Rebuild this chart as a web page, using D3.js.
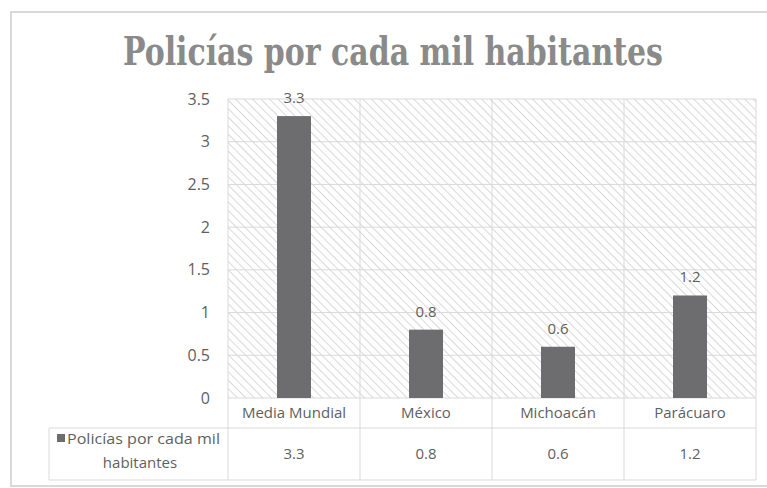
<!DOCTYPE html>
<html><head><meta charset="utf-8">
<script src="https://cdn.jsdelivr.net/npm/d3@7"></script>
<style>html,body{margin:0;padding:0;background:#fff;}svg{display:block;}</style>
</head><body>
<svg id="c" width="767" height="488"></svg>
<script>
const title = "Policías por cada mil habitantes";
const categories = ["Media Mundial", "México", "Michoacán", "Parácuaro"];
const values = [3.3, 0.8, 0.6, 1.2];
const seriesName = ["Policías por cada mil", "habitantes"];
const yTicks = [0, 0.5, 1, 1.5, 2, 2.5, 3, 3.5];

const svg = d3.select("#c");
const W = 767, H = 488;
const plot = {left: 228, right: 756, top: 99, bottom: 398};
const tableTop = 428, tableBottom = 480, legendLeft = 49;
const grid = "#d9d9d9", txt = "#5f5f5f";
const fontFam = "'Open Sans', 'Liberation Sans', sans-serif";
const fs = 15;

// hatch pattern
const defs = svg.append("defs");
const pat = defs.append("pattern").attr("id","hatch").attr("patternUnits","userSpaceOnUse")
  .attr("width",6).attr("height",6).attr("patternTransform","rotate(-45)");
pat.append("rect").attr("width",6).attr("height",6).attr("fill","#fff");
pat.append("line").attr("x1",0).attr("y1",0).attr("x2",0).attr("y2",6)
  .attr("stroke","#d9d9d9").attr("stroke-width",2);

// outer border
svg.append("rect").attr("x",11).attr("y",12).attr("width",W+20).attr("height",474)
  .attr("fill","#fff").attr("stroke","#d9d9d9").attr("stroke-width",2);

const x = d3.scaleBand().domain(categories).range([plot.left, plot.right]);
const y = d3.scaleLinear().domain([0, 3.5]).range([plot.bottom, plot.top]);

// plot background
svg.append("rect").attr("x",plot.left).attr("y",plot.top)
  .attr("width",plot.right-plot.left).attr("height",plot.bottom-plot.top)
  .attr("fill","url(#hatch)");

// title
const tg = svg.append("g").attr("transform","translate(393,65) scale(1,1.18)");
const t = tg.append("text").attr("x",0).attr("y",0)
  .attr("text-anchor","middle").attr("font-family","'DejaVu Serif','Liberation Serif',serif")
  .attr("font-stretch","condensed")
  .attr("font-weight","bold").attr("font-size",36).attr("fill","#8a8a8a").text(title);
const tw = t.node().getComputedTextLength();
t.attr("font-size", 36*540/tw);

// horizontal gridlines
svg.append("g").selectAll("line").data(yTicks).join("line")
  .attr("x1",plot.left).attr("x2",plot.right)
  .attr("y1",d=>y(d)).attr("y2",d=>y(d))
  .attr("stroke",grid).attr("stroke-width",1);

// vertical separators
const bounds = categories.map(c=>x(c)).concat([plot.right]);
svg.append("g").selectAll("line").data(bounds).join("line")
  .attr("x1",d=>d).attr("x2",d=>d).attr("y1",plot.top).attr("y2",tableBottom)
  .attr("stroke",grid).attr("stroke-width",1);

// table lines
svg.append("line").attr("x1",legendLeft).attr("x2",plot.right).attr("y1",tableTop).attr("y2",tableTop).attr("stroke",grid);
svg.append("line").attr("x1",legendLeft).attr("x2",plot.right).attr("y1",tableBottom).attr("y2",tableBottom).attr("stroke",grid);
svg.append("line").attr("x1",legendLeft).attr("x2",legendLeft).attr("y1",tableTop).attr("y2",tableBottom).attr("stroke",grid);

// y axis labels
const yAxis = d3.axisLeft(y).tickValues(yTicks).tickSize(0).tickPadding(0).tickFormat(d=>String(d));
const ya = svg.append("g").attr("transform",`translate(210,0)`).call(yAxis);
ya.select(".domain").remove();
ya.selectAll("text").attr("font-family",fontFam).attr("font-size",16).attr("fill",txt);

// bars
const bw = 34;
svg.append("g").selectAll("rect").data(values).join("rect")
  .attr("x",(d,i)=>x(categories[i])+x.bandwidth()/2-bw/2)
  .attr("width",bw)
  .attr("y",d=>y(d)).attr("height",d=>y(0)-y(d))
  .attr("fill","#6d6d6f");

// data labels
svg.append("g").selectAll("text").data(values).join("text")
  .attr("x",(d,i)=>x(categories[i])+x.bandwidth()/2)
  .attr("y",d=>y(d)-13)
  .attr("text-anchor","middle").attr("font-family",fontFam).attr("font-size",fs).attr("fill",txt)
  .text(d=>d.toFixed(1));

// category labels
svg.append("g").selectAll("text").data(categories).join("text")
  .attr("x",d=>x(d)+x.bandwidth()/2).attr("y",418)
  .attr("text-anchor","middle").attr("font-family",fontFam).attr("font-size",fs).attr("fill",txt)
  .text(d=>d);

// table values
svg.append("g").selectAll("text").data(values).join("text")
  .attr("x",(d,i)=>x(categories[i])+x.bandwidth()/2).attr("y",459)
  .attr("text-anchor","middle").attr("font-family",fontFam).attr("font-size",fs).attr("fill",txt)
  .text(d=>d.toFixed(1));

// legend cell
svg.append("rect").attr("x",57).attr("y",434).attr("width",8).attr("height",8).attr("fill","#6d6d6f");
svg.append("text").attr("x",67).attr("y",444).attr("font-family",fontFam).attr("font-size",fs).attr("fill",txt)
  .attr("textLength",153).attr("lengthAdjust","spacingAndGlyphs").text(seriesName[0]);
svg.append("text").attr("x",140).attr("y",468).attr("text-anchor","middle")
  .attr("font-family",fontFam).attr("font-size",fs).attr("fill",txt).text(seriesName[1]);
</script>
</body></html>
